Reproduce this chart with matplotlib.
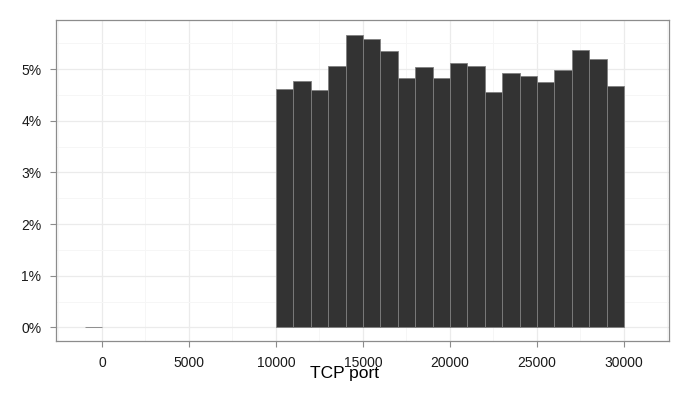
import matplotlib.pyplot as plt
from matplotlib.ticker import FuncFormatter, MultipleLocator

plt.rcParams['font.family'] = ['Liberation Sans', 'DejaVu Sans']

# histogram of TCP ports, binwidth 1000 (left edge of each bin)
bin_starts = [-1000, 10000, 11000, 12000, 13000, 14000, 15000, 16000, 17000,
              18000, 19000, 20000, 21000, 22000, 23000, 24000, 25000, 26000,
              27000, 28000, 29000]
share_pct = [0.0, 4.61, 4.78, 4.59, 5.06, 5.67, 5.58, 5.36, 4.83,
             5.05, 4.83, 5.12, 5.06, 4.55, 4.93, 4.86, 4.75, 4.99,
             5.37, 5.19, 4.68]
x_ticks = [0, 5000, 10000, 15000, 20000, 25000, 30000]
y_ticks = [0, 1, 2, 3, 4, 5]

fig = plt.figure(figsize=(6.99, 3.99), dpi=100)
ax = fig.add_axes([0.0801, 0.1454, 0.957 - 0.0801, 0.9499 - 0.1454])

ax.bar(bin_starts, share_pct, width=1000, align='edge', color='#333333',
       edgecolor='#7f7f7f', linewidth=0.6, zorder=3)

ax.set_xlim(-2644, 32586)
ax.set_ylim(-0.265, 5.955)
ax.set_xticks(x_ticks)
ax.set_yticks(y_ticks)
ax.xaxis.set_minor_locator(MultipleLocator(2500))
ax.yaxis.set_minor_locator(MultipleLocator(0.5))
ax.yaxis.set_major_formatter(FuncFormatter(lambda v, p: '%d%%' % v))
ax.xaxis.set_major_formatter(FuncFormatter(lambda v, p: '%d' % v))

ax.grid(which='major', color='#ebebeb', linewidth=0.9, zorder=0)
ax.grid(which='minor', color='#f6f6f6', linewidth=0.7, zorder=0)
ax.set_axisbelow(True)

for s in ax.spines.values():
    s.set_color('#8c8c8c')
    s.set_linewidth(0.9)

ax.tick_params(which='major', length=4.5, width=0.8, color='#8c8c8c',
               labelsize=10, labelcolor='#1a1a1a', pad=6)
ax.tick_params(which='minor', length=0)

fig.text(344 / 699, (399 - 378) / 399, 'TCP port', ha='center',
         va='baseline', fontsize=12.5, color='black')

fig.savefig('out.png', dpi=100)
